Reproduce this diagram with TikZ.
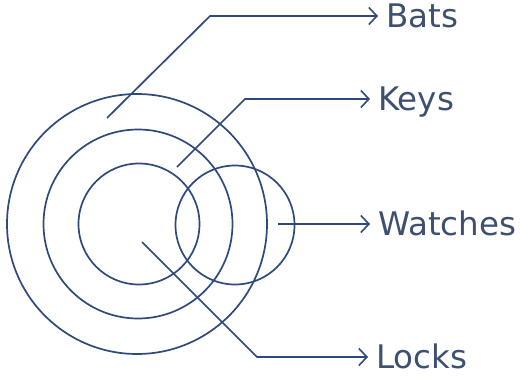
\documentclass[tikz,border=0pt]{standalone}
\usepackage{fontspec}
\setmainfont{DejaVu Sans}
\usetikzlibrary{arrows.meta}

\definecolor{ink}{HTML}{2E4A7D}
\definecolor{labelink}{HTML}{3D5070}

\begin{document}
\begin{tikzpicture}[
    x=1pt, y=-1pt,
    ring/.style={
        circle,
        draw=ink,
        line width=1.7pt,
        inner sep=0pt
    },
    pointer/.style={
        draw=ink,
        line width=1.7pt,
        -{Straight Barb[length=8pt,width=17pt,line width=1.6pt]}
    },
    tag/.style={
        anchor=west,
        inner xsep=8pt,
        inner ysep=2pt,
        text height=23pt,
        text depth=0pt,
        font=\fontsize{32.5}{32.5}\selectfont,
        text=labelink
    }
]
    \useasboundingbox (0,0) rectangle (520,383);

    % circles
    \node[ring, minimum size=260pt] (BatsRing) at (137,224) {};
    \node[ring, minimum size=189pt] (KeysRing) at (138,224) {};
    \node[ring, minimum size=121pt] (LocksRing) at (139,224) {};
    \node[ring, minimum width=119pt, minimum height=117pt] (WatchesRing) at (235,225) {};

    % labels
    \node[tag] (Bats) at (378,16) {Bats};
    \node[tag] (Keys) at (370,99) {Keys};
    \node[tag] (Watches) at (370,224) {Watches};
    \node[tag] (Locks) at (368,357) {Locks};

    % pointer ends and bends
    \coordinate (batsIn) at (107,118);
    \coordinate (batsBend) at (210,16);
    \coordinate (keysIn) at (177,167);
    \coordinate (keysBend) at (245,99);
    \coordinate (watchesIn) at (278,224);
    \coordinate (locksIn) at (142,242);
    \coordinate (locksBend) at (257,357);

    % pointers
    \draw[pointer] (batsIn) -- (batsBend) -- (Bats.west);
    \draw[pointer] (keysIn) -- (keysBend) -- (Keys.west);
    \draw[pointer] (watchesIn) -- (Watches.west);
    \draw[pointer] (locksIn) -- (locksBend) -- (Locks.west);

\end{tikzpicture}
\end{document}
